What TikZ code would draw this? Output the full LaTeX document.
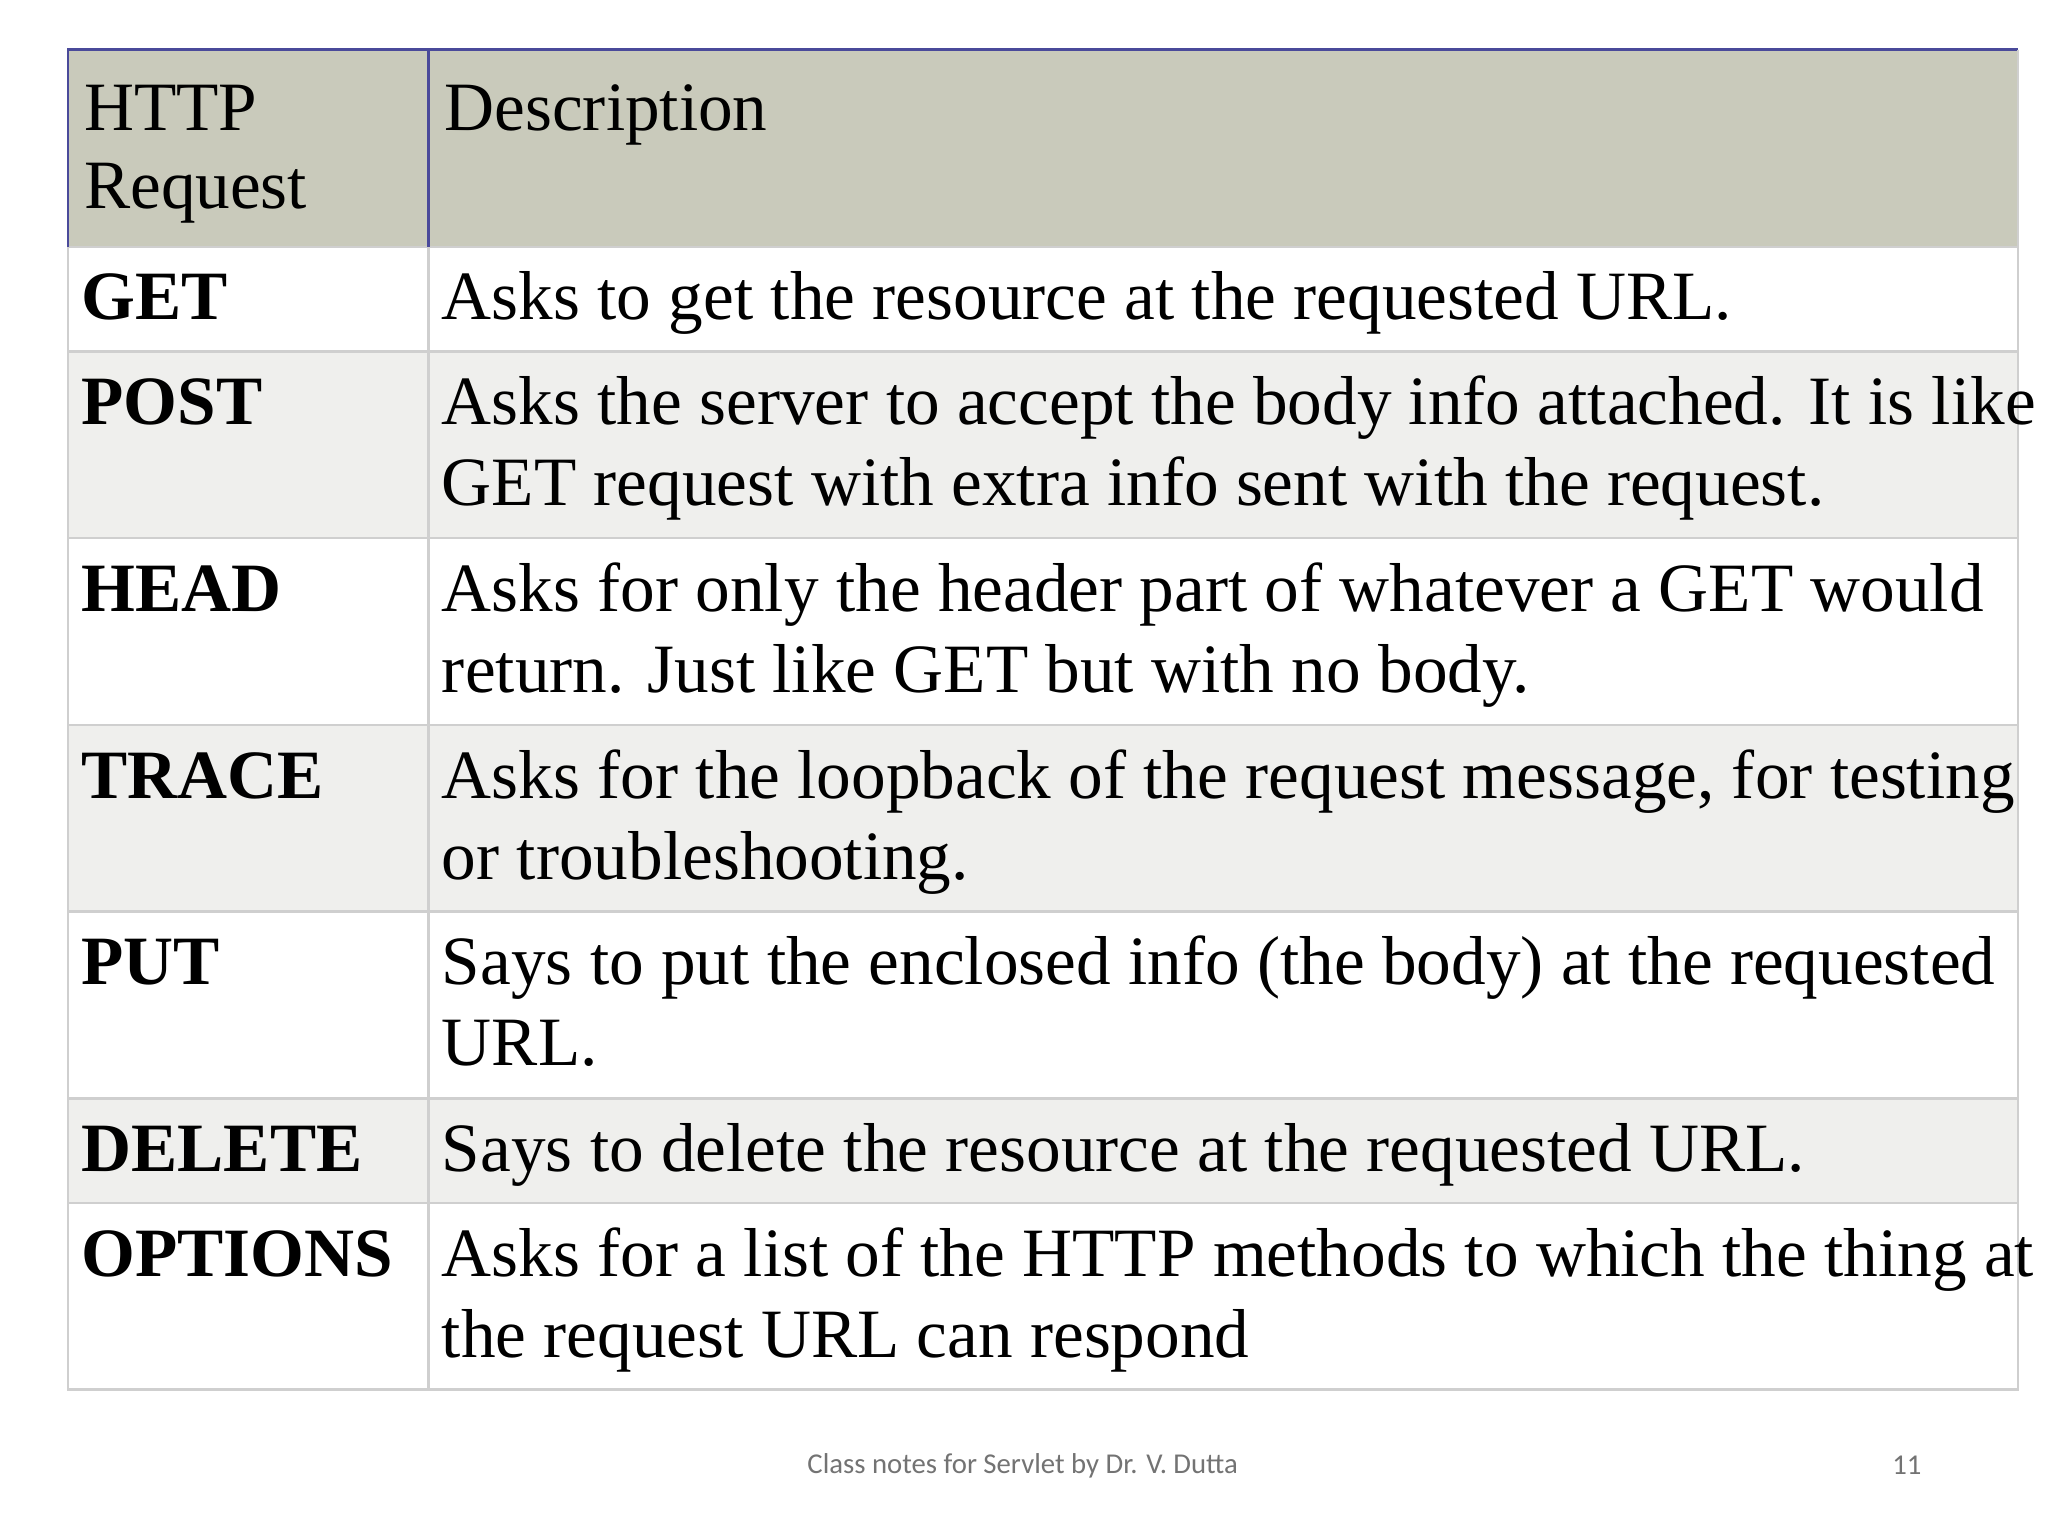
\documentclass[tikz,border=0pt]{standalone}
\usepackage{fontspec}
\setmainfont{Liberation Serif}
\newfontfamily\footfont{Carlito}
\definecolor{hdr}{HTML}{C9CABB}
\definecolor{rowg}{HTML}{EFEFED}
\definecolor{grid}{HTML}{CFCFCF}
\definecolor{hline}{HTML}{4A4A9A}
\begin{document}
\begin{tikzpicture}[x=0.5pt,y=-0.5pt,
  txt/.style={anchor=base west,inner sep=0pt,font=\fontsize{26.5pt}{31pt}\selectfont},
  bld/.style={txt,font=\fontsize{26.5pt}{31pt}\selectfont\bfseries},
  foot/.style={inner sep=0pt,text=black!55,font=\footfont\fontsize{11pt}{13pt}\selectfont}]
\useasboundingbox[fill=white] (0,0) rectangle (1568,1176);
\fill[hdr] (52,38) rectangle (1545,189);
\fill[rowg] (52,269) rectangle (1545,412);
\fill[rowg] (52,555) rectangle (1545,698);
\fill[rowg] (52,841) rectangle (1545,921);
\draw[grid,line width=1pt] (52,189) rectangle (1545,1064);
\foreach \y in {269,412,555,698,841,921} \draw[grid,line width=1pt] (52,\y) -- (1545,\y);
\draw[grid,line width=1pt] (328,189) -- (328,1064);
\draw[hline,line width=1pt] (52,189) -- (52,38) -- (1545,38);
\draw[hline,line width=1pt] (328,38) -- (328,189);
\draw[grid,line width=1pt] (1545,38) -- (1545,189);
\node[txt] (h1) at (64,100) {HTTP};
\node[txt] (h2) at (64,160) {Request};
\node[txt] (h3) at (340,100) {Description};
\node[bld] (m1) at (62,245) {GET};
\node[txt] (d1) at (338,245) {Asks to get the resource at the requested URL.};
\node[bld] (m2) at (62,325) {POST};
\node[txt] (d2a) at (338,325) {Asks the server to accept the body info attached. It is like};
\node[txt] (d2b) at (338,387) {GET request with extra info sent with the request.};
\node[bld] (m3) at (62,468) {HEAD};
\node[txt] (d3a) at (338,468) {Asks for only the header part of whatever a GET would};
\node[txt] (d3b) at (338,530) {return. Just like GET but with no body.};
\node[bld] (m4) at (62,611) {TRACE};
\node[txt] (d4a) at (338,611) {Asks for the loopback of the request message, for testing};
\node[txt] (d4b) at (338,673) {or troubleshooting.};
\node[bld] (m5) at (62,754) {PUT};
\node[txt] (d5a) at (338,754) {Says to put the enclosed info (the body) at the requested};
\node[txt] (d5b) at (338,816) {URL.};
\node[bld] (m6) at (62,897) {DELETE};
\node[txt] (d6) at (338,897) {Says to delete the resource at the requested URL.};
\node[bld] (m7) at (62,977) {OPTIONS};
\node[txt] (d7a) at (338,977) {Asks for a list of the HTTP methods to which the thing at};
\node[txt] (d7b) at (338,1039) {the request URL can respond};
\node[foot] (f1) at (783,1122) {Class notes for Servlet by Dr. V. Dutta};
\node[foot] (f2) at (1460,1122) {11};
\end{tikzpicture}
\end{document}
